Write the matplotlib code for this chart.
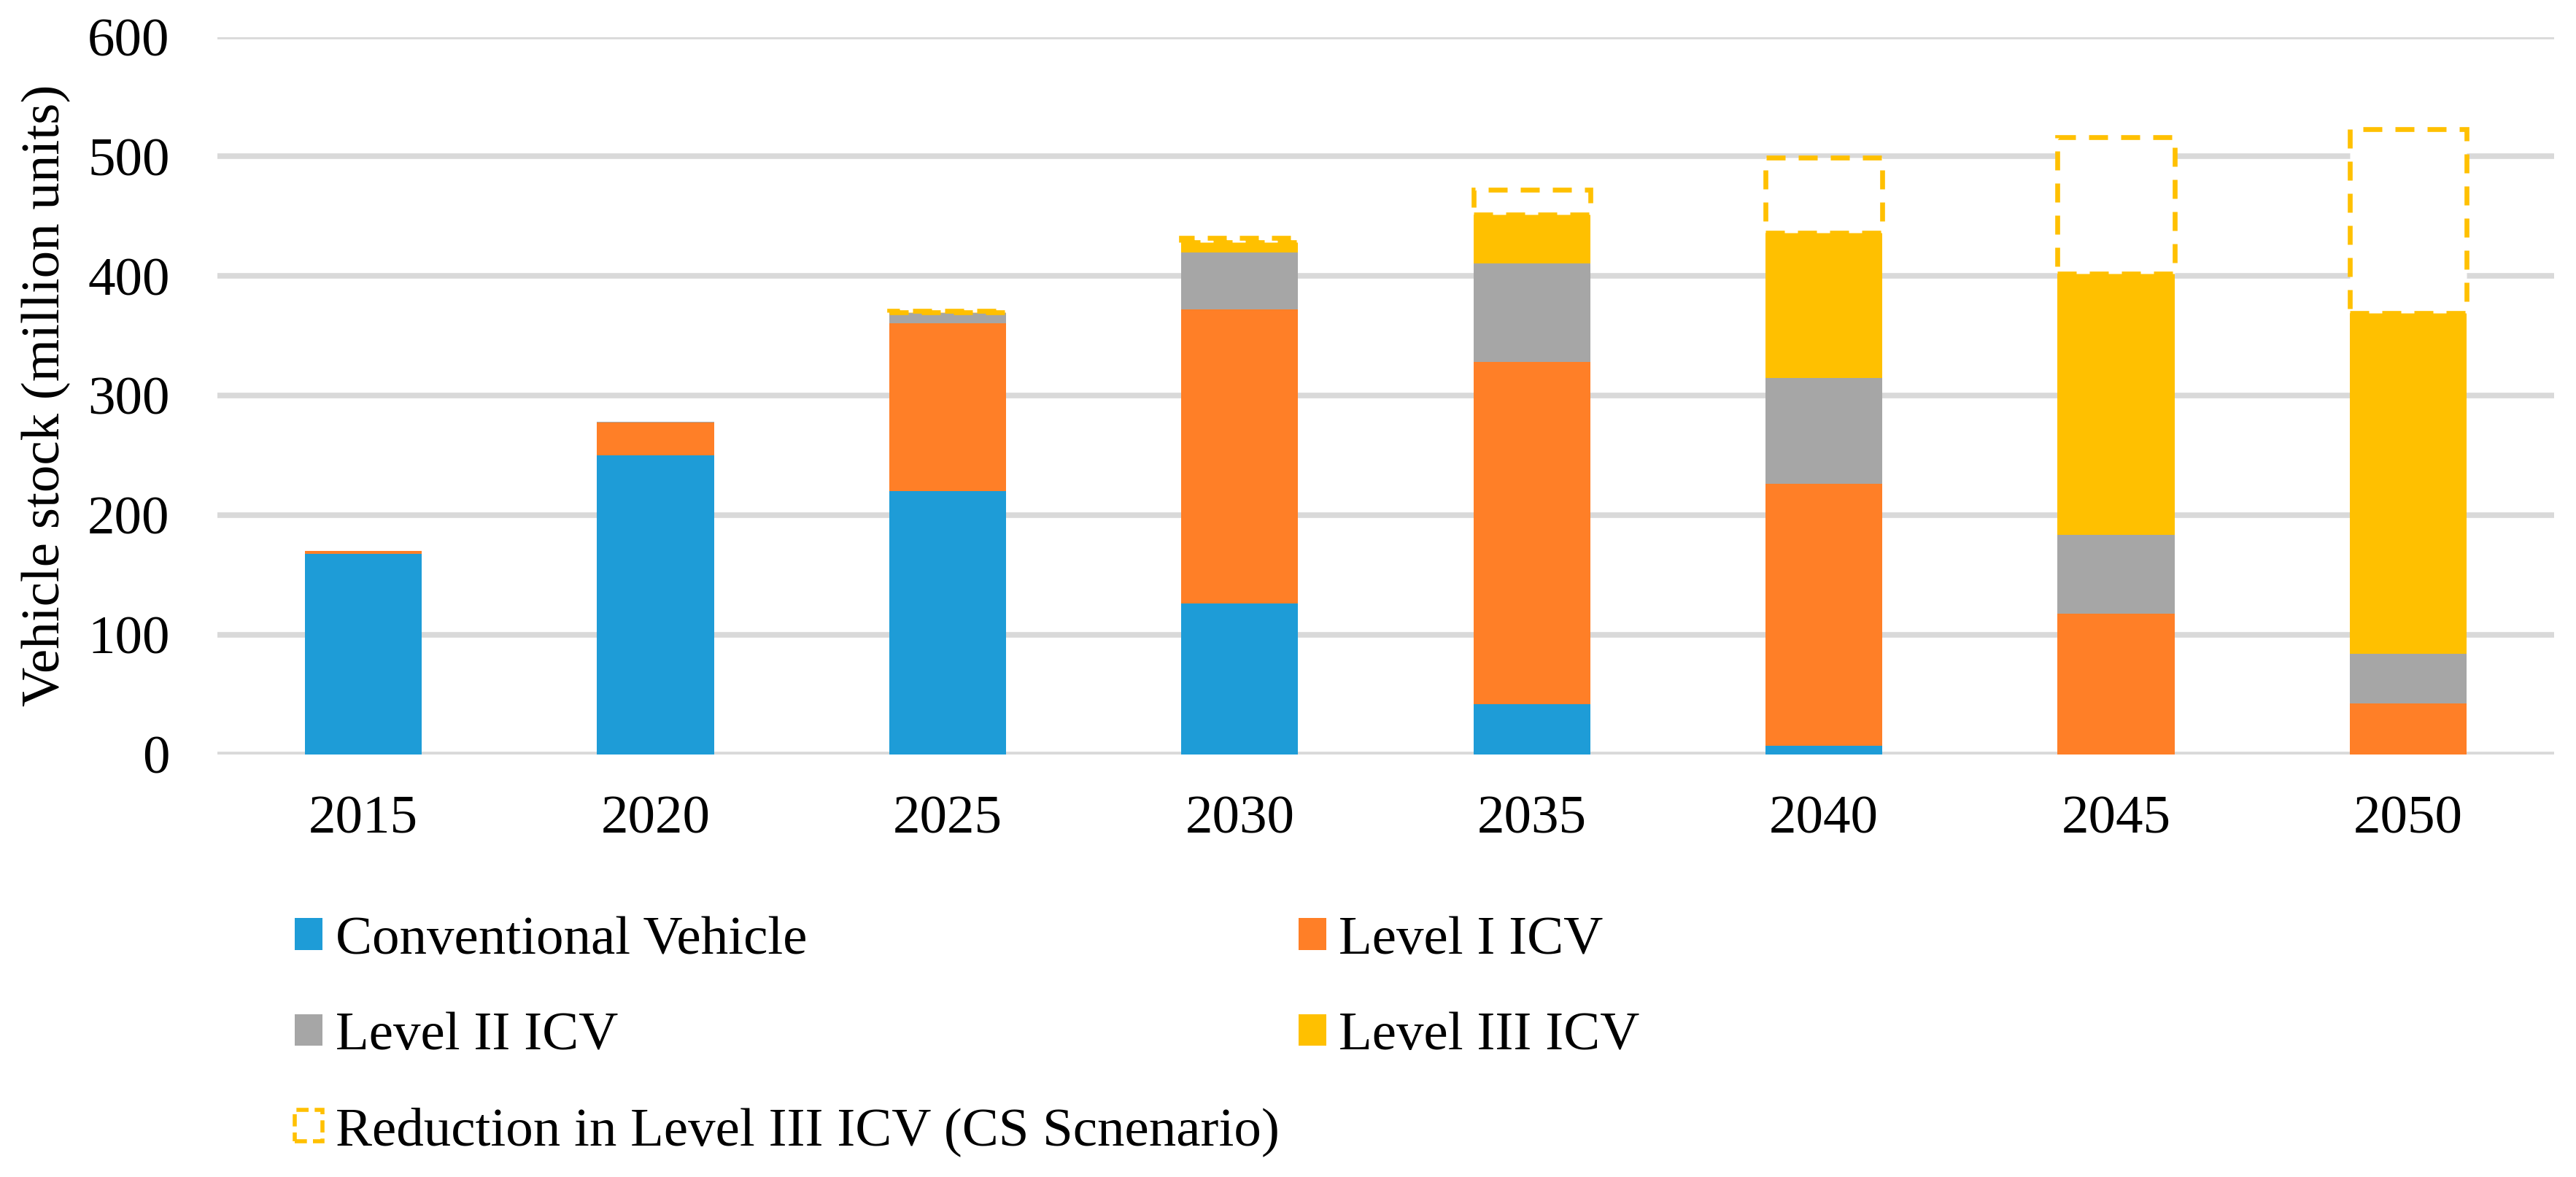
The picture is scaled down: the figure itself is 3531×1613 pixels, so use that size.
import numpy as np
import matplotlib
matplotlib.use('Agg')
import matplotlib.pyplot as plt
import matplotlib.patches as mpatches

plt.rcParams['font.family'] = ['Liberation Serif', 'DejaVu Serif']

# datos (millones de unidades)
anios = ['2015', '2020', '2025', '2030', '2035', '2040', '2045', '2050']
convencional = [168, 250, 220, 126, 42, 7.4, 0, 0]
nivel1 = [2, 27.5, 140.7, 246, 286.4, 219, 117.5, 42.8]
nivel2 = [0, 0.5, 8.2, 47.5, 82, 88.5, 66.2, 41.2]
nivel3 = [0, 0, 0.6, 8.5, 41, 121.6, 218.3, 285]
reduccion = [0, 0, 1.5, 4, 20.6, 62.4, 114, 154]

etiquetas = ['Conventional Vehicle', 'Level I ICV', 'Level II ICV', 'Level III ICV',
             'Reduction in Level III ICV (CS Scnenario)']
colores = ['#1E9CD7', '#FF7F27', '#A6A6A6', '#FFC000']
fs = 54

fig = plt.figure(figsize=(35.31, 16.13), dpi=100)
ax = fig.add_axes([298 / 3531, 1 - 1034 / 1613, 3203 / 3531, (1034 - 50.5) / 1613])

x = np.arange(len(anios))
ancho = 0.4
base = np.zeros(len(anios))
barras = []
for serie, color, etiqueta in zip([convencional, nivel1, nivel2, nivel3], colores, etiquetas):
    b = ax.bar(x, serie, ancho, bottom=base, color=color, label=etiqueta, zorder=2)
    barras.append(b)
    base = base + np.array(serie)

# reducción en el escenario CS: caja punteada encima de la pila
red = ax.bar(x, reduccion, ancho, bottom=base, facecolor='white', edgecolor='#FFC000',
             linewidth=4.8, linestyle=(0, (3.9, 2.7)), zorder=3)
for p, v in zip(red.patches, reduccion):
    if v == 0:
        p.set_visible(False)
proxy = mpatches.Rectangle((0, 0), 1, 1, facecolor='white', edgecolor='#FFC000',
                           linewidth=4, linestyle=(0, (3, 1.5)))
barras.append(proxy)

ax.set_ylim(0, 600)
ax.set_xlim(-0.5, len(anios) - 0.5)
ax.set_yticks(range(0, 601, 100))
ax.set_xticks(x)
ax.set_xticklabels(anios)
ax.tick_params(axis='both', length=0, labelsize=fs)
ax.tick_params(axis='y', pad=47)
ax.tick_params(axis='x', pad=40)
ax.yaxis.grid(True, color='#D9D9D9', linewidth=5.5, zorder=0)
ax.set_axisbelow(True)
for s in ax.spines.values():
    s.set_visible(False)

ax.set_ylabel('Vehicle stock (million units)', fontsize=fs)
ax.yaxis.set_label_coords(-(298 - 97) / 3203, 0.5)

orden = [0, 2, 4, 1, 3]
fig.legend([barras[i] for i in orden], [etiquetas[i] for i in orden], ncol=2,
           loc='upper left', bbox_to_anchor=(404 / 3531, 1 - 1255 / 1613),
           frameon=False, fontsize=fs, handlelength=0.51, handleheight=0.51,
           handletextpad=0.23, columnspacing=0.35, labelspacing=0.85,
           borderpad=0, borderaxespad=0)

fig.savefig('out.png', dpi=100, facecolor='white')
